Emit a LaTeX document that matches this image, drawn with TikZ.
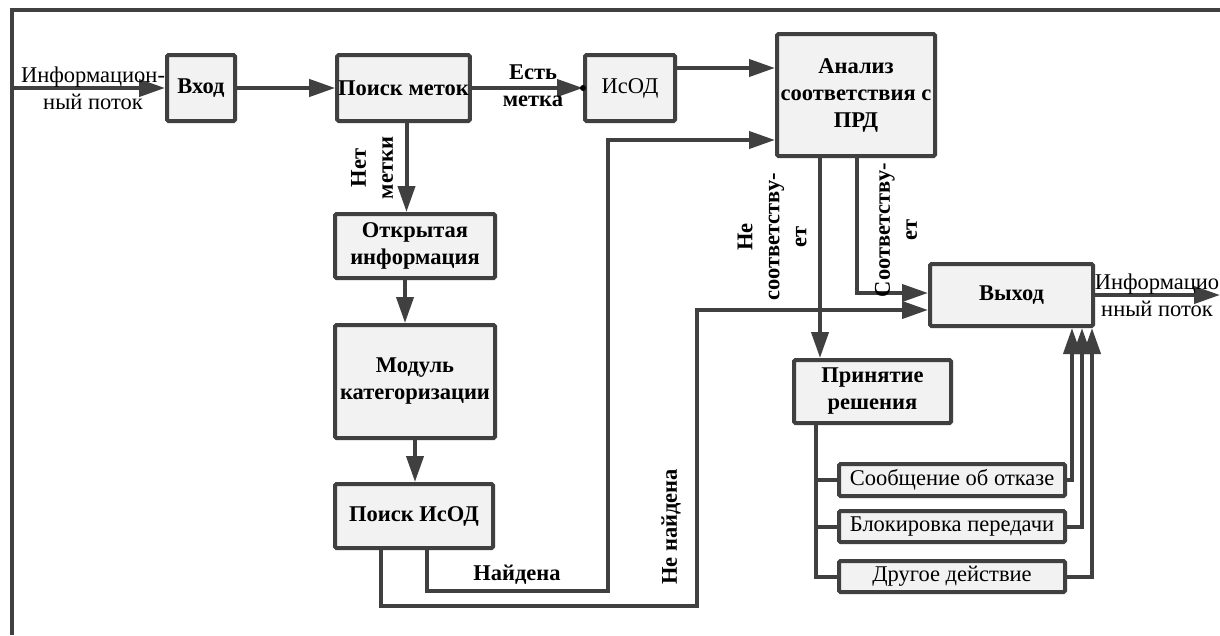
\documentclass[tikz,border=0pt]{standalone}
\usepackage{fontspec}
\setmainfont{Liberation Serif}
\usepackage{tikz}
\usetikzlibrary{arrows.meta, positioning, calc, shadows}
\definecolor{lineg}{RGB}{64,64,64}
\definecolor{boxfill}{RGB}{242,242,242}

\begin{document}
\begin{tikzpicture}[
  x=1pt, y=-1pt,
  box/.style={draw=lineg, line width=4pt, fill=boxfill, rounded corners=1.5pt, align=center, inner sep=1pt,
    font=\fontsize{22.5}{27}\selectfont\bfseries, drop shadow={opacity=0.15, shadow xshift=2pt, shadow yshift=-2pt}},
  pbox/.style={box, font=\fontsize{22.5}{27}\selectfont},
  link/.style={line width=4pt, draw=lineg},
  arr/.style={link, -{Triangle[length=26pt, width=17pt]}},
  lbl/.style={align=center, font=\fontsize{22.5}{27}\selectfont\bfseries},
  plbl/.style={align=center, font=\fontsize{22.5}{27}\selectfont}
]
\useasboundingbox (0,0) rectangle (1220,635);

% Frame
\draw[link] (12,635) -- (12,10) -- (1220,10);

% --- Upper row ---
\node[box, minimum width=68pt, minimum height=66pt] (vhod) at (201,88) {Вход};
\node[box, minimum width=129pt, minimum height=66pt] (poisk) at (403.5,88) {Поиск меток};
\node[pbox, minimum width=90pt, minimum height=66pt] (isod) at (630,88) {ИсОД};
\node[box, minimum width=158pt, minimum height=122pt] (analiz) at (856,95) {Анализ\\соответствия с\\ПРД};

% --- Left column ---
\node[box, minimum width=160pt, minimum height=64pt] (otkr) at (415,246) {Открытая\\информация};
\node[box, minimum width=160pt, minimum height=113pt] (modul) at (415,381.5) {Модуль\\категоризации};
\node[box, minimum width=158pt, minimum height=64pt] (poiskisod) at (414,516) {Поиск ИсОД};

% --- Right part ---
\node[box, minimum width=163pt, minimum height=62pt] (vyhod) at (1011.5,295) {Выход};
\node[box, minimum width=157pt, minimum height=63pt] (prin) at (872.5,391.5) {Принятие\\решения};
\node[pbox, minimum width=226pt, minimum height=32pt] (soob) at (952,480) {Сообщение об отказе};
\node[pbox, minimum width=226pt, minimum height=31pt] (blok) at (952,526.5) {Блокировка передачи};
\node[pbox, minimum width=226pt, minimum height=31pt] (drug) at (952,576.5) {Другое действие};

% Input and output
\coordinate (in) at (12,88);
\coordinate (out) at (1220,295);
\draw[arr] (in) -- (vhod);
\node[plbl] (inlbl) at (93,88) {Информацион-\\ный поток};
\draw[arr] (vyhod) -- (out);
\node[plbl] (outlbl) at (1157,295) {Информацио\\нный поток};

% Label search
\draw[arr] (vhod) -- (poisk);
\draw[arr] (poisk) -- (isod);
\fill[black] (isod.west) circle (3pt);
\node[lbl] (est) at (533,86) {Есть\\метка};
\draw[arr] ([yshift=20pt]isod.east) -- ([yshift=20pt]isod.east -| analiz.west);
\draw[arr] ([xshift=3pt]poisk.south) -- ([xshift=3pt]poisk.south |- otkr.north);
\node[lbl, rotate=90] (net) at (372,168) {Нет\\метки};

% Categorization chain
\draw[arr] ([xshift=-10pt]otkr.south) -- ([xshift=-10pt]otkr.south |- modul.north);
\draw[arr] (modul.south) -- (modul.south |- poiskisod.north);

% Found / not found
\coordinate (fnd) at (608,591);
\coordinate (nfnd) at (697,606);
\draw[arr] ([xshift=13pt]poiskisod.south) |- (fnd) |- ([yshift=-45pt]analiz.west);
\draw[arr] ([xshift=-33pt]poiskisod.south) |- (nfnd) |- ([yshift=-15pt]vyhod.west);
\node[lbl] (found) at (517,575) {Найдена};
\node[lbl, rotate=90] (notfound) at (671,527) {Не найдена};

% Compliance check
\draw[arr] ([xshift=-36pt]analiz.south) -- ([xshift=-36pt]analiz.south |- prin.north);
\draw[arr] ([xshift=1pt]analiz.south) |- ([yshift=2pt]vyhod.west);
\node[lbl, rotate=90] (nesoot) at (772,237) {Не\\соответству-\\ет};
\node[lbl, rotate=90] (soot) at (896,230) {Соответству-\\ет};

% Decision branches
\draw[link] ([xshift=-57pt]prin.south) |- (soob.west);
\draw[link] ([xshift=-57pt]prin.south) |- (blok.west);
\draw[link] ([xshift=-57pt]prin.south) |- (drug.west);
\draw[arr] (soob.east) -| ([xshift=60.5pt]vyhod.south);
\draw[arr] (blok.east) -| ([xshift=70.5pt]vyhod.south);
\draw[arr] (drug.east) -| ([xshift=80.5pt]vyhod.south);

\end{tikzpicture}
\end{document}
